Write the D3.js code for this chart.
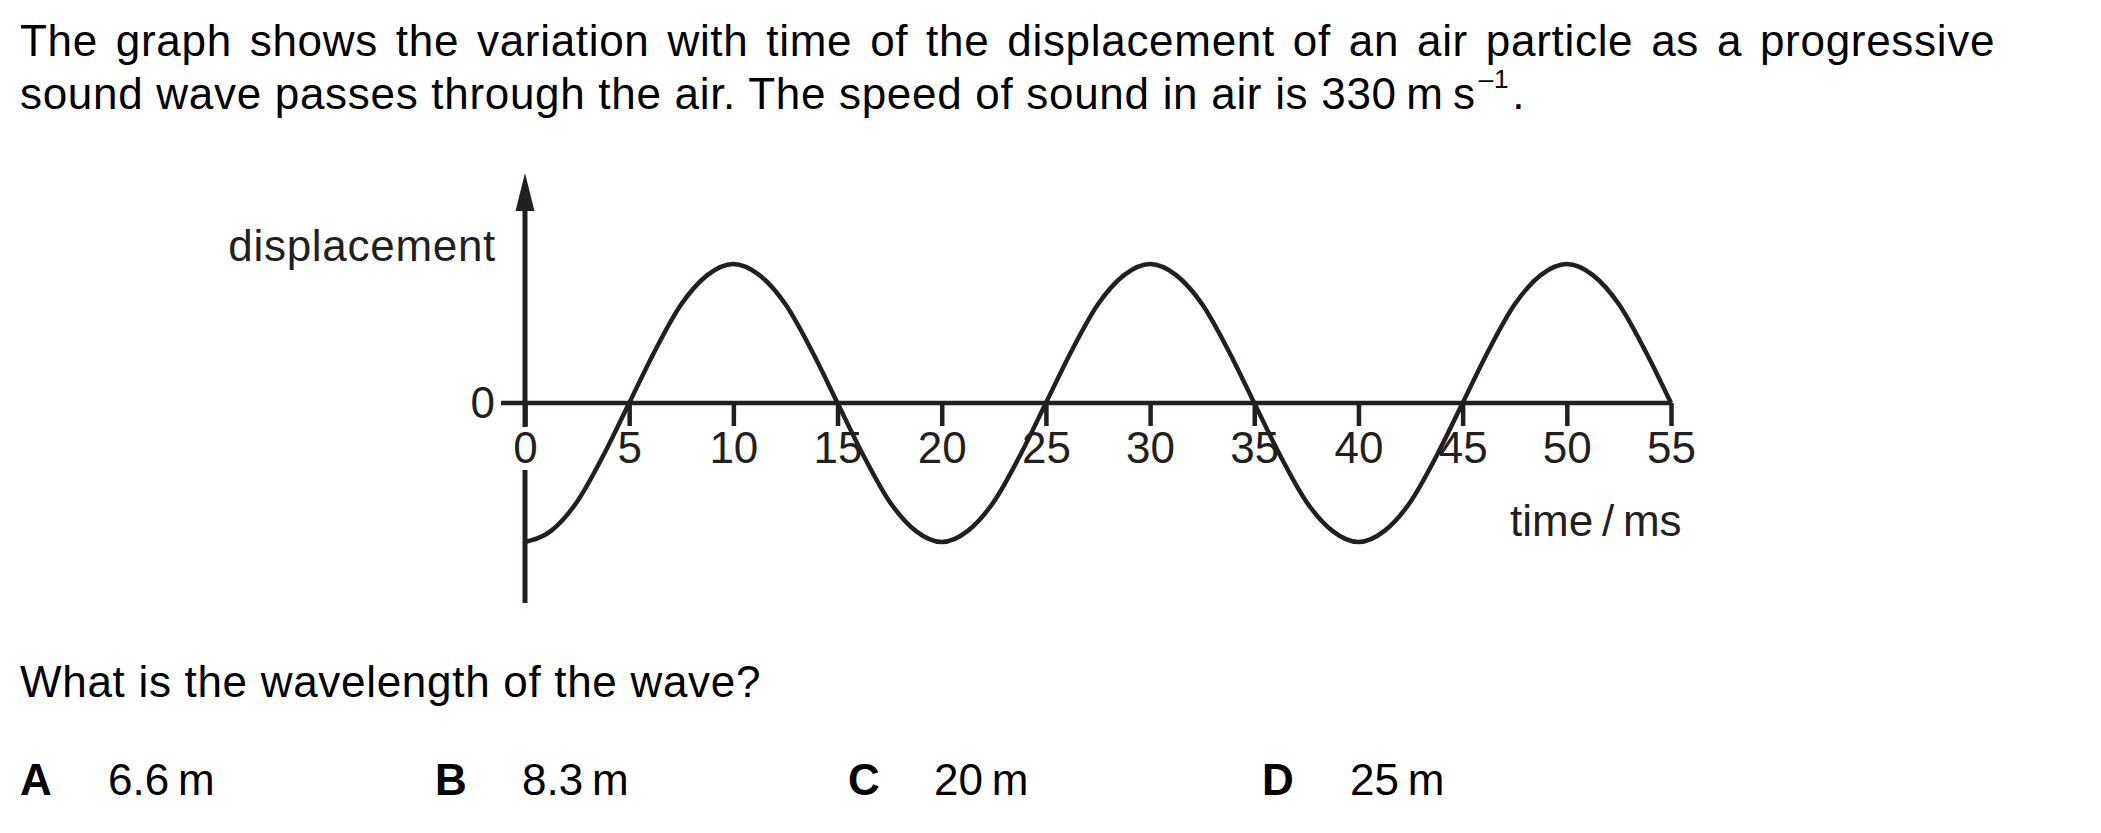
<!DOCTYPE html>
<html>
<head>
<meta charset="utf-8">
<script src="https://cdn.jsdelivr.net/npm/d3@7"></script>
<style>
  html, body { margin: 0; padding: 0; background: #fff; }
  svg { display: block; font-family: "Liberation Sans", Arial, Helvetica, sans-serif; letter-spacing: 0.7px; }
</style>
</head>
<body>
<svg id="chart" width="2101" height="833"></svg>
<script>
// ---------- data ----------
const questionLine1 = "The graph shows the variation with time of the displacement of an air particle as a progressive";
const questionLine2 = "sound wave passes through the air. The speed of sound in air is 330\u2009m\u2009s";
const questionSup = "\u20131";
const questionLine3 = "What is the wavelength of the wave?";
const optionLetters = ["A", "B", "C", "D"];
const optionValues = ["6.6\u2009m", "8.3\u2009m", "20\u2009m", "25\u2009m"];

const timeTicks = [0, 5, 10, 15, 20, 25, 30, 35, 40, 45, 50, 55];      // ms
const displacementTicks = [0];
const time = [0, 1.25, 2.5, 3.75, 5, 6.25, 7.5, 8.75, 10, 11.25, 12.5, 13.75, 15, 16.25, 17.5, 18.75,
              20, 21.25, 22.5, 23.75, 25, 26.25, 27.5, 28.75, 30, 31.25, 32.5, 33.75, 35, 36.25, 37.5, 38.75,
              40, 41.25, 42.5, 43.75, 45, 46.25, 47.5, 48.75, 50, 51.25, 52.5, 53.75, 55];
const displacement = [-1, -0.92, -0.71, -0.38, 0, 0.38, 0.71, 0.92, 1, 0.92, 0.71, 0.38, 0, -0.38, -0.71, -0.92,
                      -1, -0.92, -0.71, -0.38, 0, 0.38, 0.71, 0.92, 1, 0.92, 0.71, 0.38, 0, -0.38, -0.71, -0.92,
                      -1, -0.92, -0.71, -0.38, 0, 0.38, 0.71, 0.92, 1, 0.92, 0.71, 0.38, 0];
const xLabel = "time\u2009/\u2009ms";
const yLabel = "displacement";

// ---------- layout ----------
const svg = d3.select("#chart");
const ink = "#231f20";
const FS = 44;

const x = d3.scaleLinear().domain([0, 55]).range([525, 1671]);
const y = d3.scaleLinear().domain([-1, 1]).range([542, 264]);

function fitWords(sel, text, left, right) {
  const w = sel.node().getBBox().width;
  const spaces = text.split(" ").length - 1;
  sel.attr("word-spacing", ((right - left - w) / spaces).toFixed(2));
}

// ---------- question text ----------
const t1 = svg.append("text").attr("x", 20).attr("y", 56)
  .attr("font-size", FS).attr("fill", "#000").text(questionLine1);
fitWords(t1, questionLine1, 20, 1995);

const t2 = svg.append("text").attr("x", 20).attr("y", 109)
  .attr("font-size", FS).attr("fill", "#000");
t2.append("tspan").text(questionLine2);
t2.append("tspan").attr("font-size", 26).attr("dx", 3).attr("dy", -21).text(questionSup);
t2.append("tspan").attr("dx", 3).attr("dy", 21).text(".");

svg.append("text").attr("x", 20).attr("y", 697)
  .attr("font-size", FS).attr("fill", "#000").text(questionLine3);

const letterX = [20, 435, 848, 1262];
const valueX = [108, 522, 934, 1350];
svg.selectAll("text.optL").data(optionLetters).join("text")
  .attr("class", "optL")
  .attr("x", (d, i) => letterX[i]).attr("y", 795)
  .attr("font-size", FS).attr("font-weight", "bold").attr("fill", "#000")
  .text(d => d);
svg.selectAll("text.optV").data(optionValues).join("text")
  .attr("class", "optV")
  .attr("x", (d, i) => valueX[i]).attr("y", 795)
  .attr("font-size", FS).attr("fill", "#000").attr("letter-spacing", 0)
  .text(d => d);

// ---------- chart ----------
const g = svg.append("g");

// y axis line with arrow
g.append("line")
  .attr("x1", x(0)).attr("x2", x(0))
  .attr("y1", 205).attr("y2", 603)
  .attr("stroke", ink).attr("stroke-width", 5);
g.append("path")
  .attr("d", `M${x(0)},173 L${x(0) - 9.5},211 L${x(0) + 9.5},211 Z`)
  .attr("fill", ink);

// x axis main line (extends left past the y axis as the y "0" tick)
g.append("line")
  .attr("x1", x(0) - 24).attr("x2", x(55))
  .attr("y1", y(0)).attr("y2", y(0))
  .attr("stroke", ink).attr("stroke-width", 4.5);

// x axis ticks and labels
const xAxis = d3.axisBottom(x).tickValues(timeTicks).tickSize(23).tickPadding(6).tickFormat(d3.format("d"));
const gx = g.append("g").attr("transform", `translate(0,${y(0)})`).call(xAxis);
gx.select(".domain").remove();
gx.selectAll(".tick line").attr("stroke", ink).attr("stroke-width", 4.5);
gx.selectAll(".tick text")
  .attr("font-size", FS).attr("fill", ink).attr("letter-spacing", 0)
  .attr("font-family", "Liberation Sans, Arial, sans-serif");
// knock-out behind the "0" time label so the y axis is broken there
gx.selectAll(".tick").filter(d => d === 0)
  .insert("rect", "text")
  .attr("x", -14).attr("y", 24).attr("width", 28).attr("height", 43)
  .attr("fill", "#fff");

// y axis "0" label
const yAxis = d3.axisLeft(y).tickValues(displacementTicks).tickSize(0).tickPadding(30).tickFormat(d3.format("d"));
const gy = g.append("g").attr("transform", `translate(${x(0)},0)`).call(yAxis);
gy.select(".domain").remove();
gy.selectAll(".tick text")
  .attr("font-size", FS).attr("fill", ink).attr("letter-spacing", 0)
  .attr("font-family", "Liberation Sans, Arial, sans-serif");

// axis titles
g.append("text").attr("x", 496).attr("y", 261).attr("text-anchor", "end")
  .attr("font-size", FS).attr("fill", ink).text(yLabel);
g.append("text").attr("x", 1510).attr("y", 536).attr("letter-spacing", 0)
  .attr("font-size", FS).attr("fill", ink).text(xLabel);

// the wave
const line = d3.line()
  .x((d, i) => x(time[i]))
  .y(d => y(d))
  .curve(d3.curveMonotoneX);
g.append("path")
  .datum(displacement)
  .attr("d", line)
  .attr("fill", "none")
  .attr("stroke", ink)
  .attr("stroke-width", 4.5)
  .attr("stroke-linejoin", "round");
</script>
</body>
</html>
